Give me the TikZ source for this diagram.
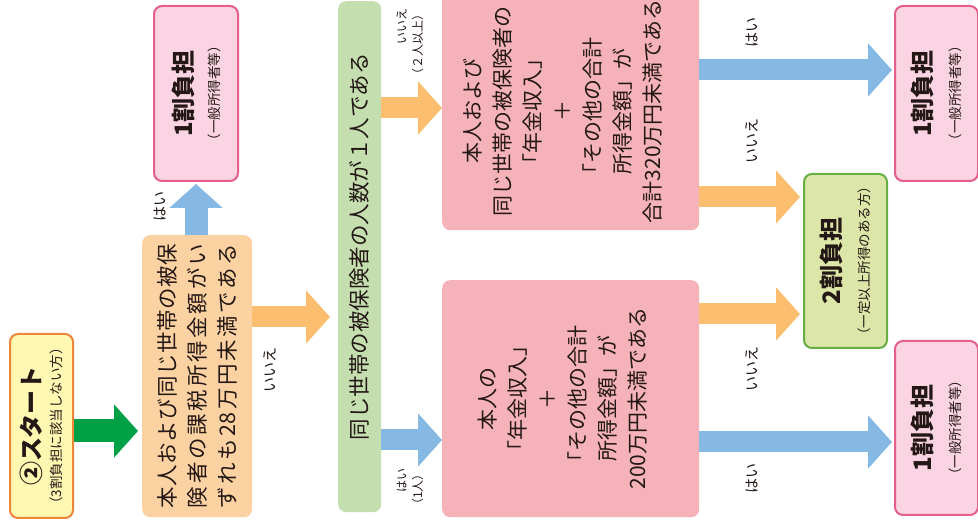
\documentclass[tikz,border=0pt]{standalone}
\usepackage{fontspec}
\usepackage{graphicx}
\setmainfont{Noto Sans CJK JP}
\usetikzlibrary{arrows.meta}
\definecolor{ink}{RGB}{35,24,21}
\definecolor{startfill}{RGB}{255,247,178}
\definecolor{startline}{RGB}{238,134,58}
\definecolor{peach}{RGB}{253,210,163}
\definecolor{barfill}{RGB}{197,222,176}
\definecolor{pinkbox}{RGB}{245,178,185}
\definecolor{onefill}{RGB}{250,212,226}
\definecolor{oneline}{RGB}{229,95,138}
\definecolor{twofill}{RGB}{220,230,168}
\definecolor{twoline}{RGB}{102,175,67}
\definecolor{greenA}{RGB}{0,160,70}
\definecolor{orangeA}{RGB}{250,190,110}
\definecolor{blueA}{RGB}{133,185,227}
\newcommand\vc[2]{\rotatebox{90}{\vbox{\baselineskip=#1\relax\lineskiplimit=-100pt\lineskip=0pt\halign{\hfil##\hfil\cr#2\crcr}}}}
\newcommand\vl[2]{\rotatebox{90}{\vbox{\baselineskip=#1\relax\lineskiplimit=-100pt\lineskip=0pt\halign{##\hfil\cr#2\crcr}}}}
\newcommand\vr[2]{\rotatebox{90}{\vbox{\baselineskip=#1\relax\lineskiplimit=-100pt\lineskip=0pt\halign{\hfil##\cr#2\crcr}}}}
\def\sptok#1{\ifx\relax#1\else\hfil#1\expandafter\sptok\fi}
\def\sptokfirst#1{#1\sptok}
\newcommand\spreadline[2]{\makebox[#1][s]{\sptokfirst#2\relax}}
\begin{document}
\begin{tikzpicture}[x=1pt,y=-1pt,
  box/.style={rounded corners=8pt, inner sep=0pt, anchor=north west, text=ink},
  fat/.style={line width=21pt, -{Triangle[length=24pt,width=52pt]}},
  lbl/.style={inner sep=0pt, text=ink, font=\fontsize{15}{18}\selectfont}]
\useasboundingbox (0,0) rectangle (978,526);

% boxes
\node[box, fill=startfill, draw=startline, line width=2pt, minimum width=63pt, minimum height=184pt] (start) at (9,333)
  {\vc{21pt}{{\bfseries\fontsize{24}{24}\selectfont ②スタート}\cr{\fontsize{13.5}{14}\selectfont （3割負担に該当しない方）}}};
\node[box, fill=peach, minimum width=110pt, minimum height=282pt, font=\fontsize{21.5}{30}\selectfont] (q1) at (142,235)
  {\vl{30pt}{\spreadline{264pt}{本人および同じ世帯の被保}\cr\spreadline{264pt}{険者の課税所得金額がい}\cr\spreadline{264pt}{ずれも{28}万円未満である}}};
\node[box, fill=onefill, draw=oneline, line width=2pt, minimum width=84pt, minimum height=175pt] (r1a) at (153,5)
  {\vc{27pt}{{\bfseries\fontsize{24}{24}\selectfont 1割負担}\cr{\fontsize{13.5}{14}\selectfont （一般所得者等）}}};
\node[box, fill=barfill, minimum width=43pt, minimum height=511pt, font=\fontsize{21.5}{22}\selectfont] (q2) at (338,1)
  {\rotatebox{90}{\hspace{20pt}同じ世帯の被保険者の人数が１人である}};
\node[box, fill=pinkbox, minimum width=257pt, minimum height=238pt, font=\fontsize{21}{30}\selectfont] (q3) at (442,-8)
  {\vc{30pt}{本人および\cr 同じ世帯の被保険者の\cr 「年金収入」\cr ＋\cr 「その他の合計\cr 所得金額」が\cr 合計320万円未満である\cr\noalign{\kern16pt}}};
\node[box, fill=pinkbox, minimum width=257pt, minimum height=237pt, font=\fontsize{21}{30}\selectfont] (q4) at (442,280)
  {\vc{30pt}{本人の\cr 「年金収入」\cr ＋\cr 「その他の合計\cr 所得金額」が\cr 200万円未満である\cr\noalign{\kern16pt}}};
\node[box, fill=twofill, draw=twoline, line width=2pt, minimum width=83pt, minimum height=174pt] (r2) at (803,173)
  {\vc{29pt}{{\bfseries\fontsize{24}{24}\selectfont 2割負担}\cr{\fontsize{13.5}{14}\selectfont （一定以上所得のある方）}}};
\node[box, fill=onefill, draw=oneline, line width=2pt, minimum width=83pt, minimum height=175pt] (r1b) at (894,5)
  {\vc{29pt}{{\bfseries\fontsize{24}{24}\selectfont 1割負担}\cr{\fontsize{13.5}{14}\selectfont （一般所得者等）}}};
\node[box, fill=onefill, draw=oneline, line width=2pt, minimum width=83pt, minimum height=174pt] (r1c) at (894,340)
  {\vc{29pt}{{\bfseries\fontsize{24}{24}\selectfont 1割負担}\cr{\fontsize{13.5}{14}\selectfont （一般所得者等）}}};

% arrow levels
\coordinate (yg) at (0,431);
\coordinate (xb) at (196,0);
\coordinate (ya) at (0,317);
\coordinate (yb) at (0,108);
\coordinate (yc) at (0,440);
\coordinate (yd) at (0,70);
\coordinate (ye) at (0,197);
\coordinate (yf) at (0,314);
\coordinate (yh) at (0,442);

\draw[fat, draw=greenA, line width=23pt, shorten >=4pt] (start.east |- yg) -- (q1.west |- yg);
\draw[fat, draw=blueA, line width=23pt, shorten >=2pt] (q1.north -| xb) -- (r1a.south -| xb);
\draw[fat, draw=orangeA, shorten >=8pt] (q1.east |- ya) -- (q2.west |- ya);
\draw[fat, draw=orangeA] (q2.east |- yb) -- (q3.west |- yb);
\draw[fat, draw=blueA] (q2.east |- yc) -- (q4.west |- yc);
\draw[fat, draw=blueA, shorten >=2pt] (q3.east |- yd) -- (r1b.west |- yd);
\draw[fat, draw=orangeA, shorten >=3pt] (q3.east |- ye) -- (r2.west |- ye);
\draw[fat, draw=orangeA, shorten >=3pt] (q4.east |- yf) -- (r2.west |- yf);
\draw[fat, draw=blueA, shorten >=2pt] (q4.east |- yh) -- (r1c.west |- yh);

% labels
\node[lbl] (l1) at (160,207) {\rotatebox{90}{はい}};
\node[lbl] (l2) at (270,370) {\rotatebox{90}{いいえ}};
\node[lbl, anchor=north, font=\fontsize{12}{14}\selectfont] (l3) at (410,8) {\vr{16pt}{いいえ\cr （２人以上）}};
\node[lbl, anchor=north, font=\fontsize{12}{14}\selectfont] (l4) at (410,468) {\vr{16pt}{はい\cr （1人）}};
\node[lbl] (l5) at (752,33) {\rotatebox{90}{はい}};
\node[lbl] (l6) at (752,141) {\rotatebox{90}{いいえ}};
\node[lbl] (l7) at (752,369) {\rotatebox{90}{いいえ}};
\node[lbl] (l8) at (752,479) {\rotatebox{90}{はい}};
\end{tikzpicture}
\end{document}
